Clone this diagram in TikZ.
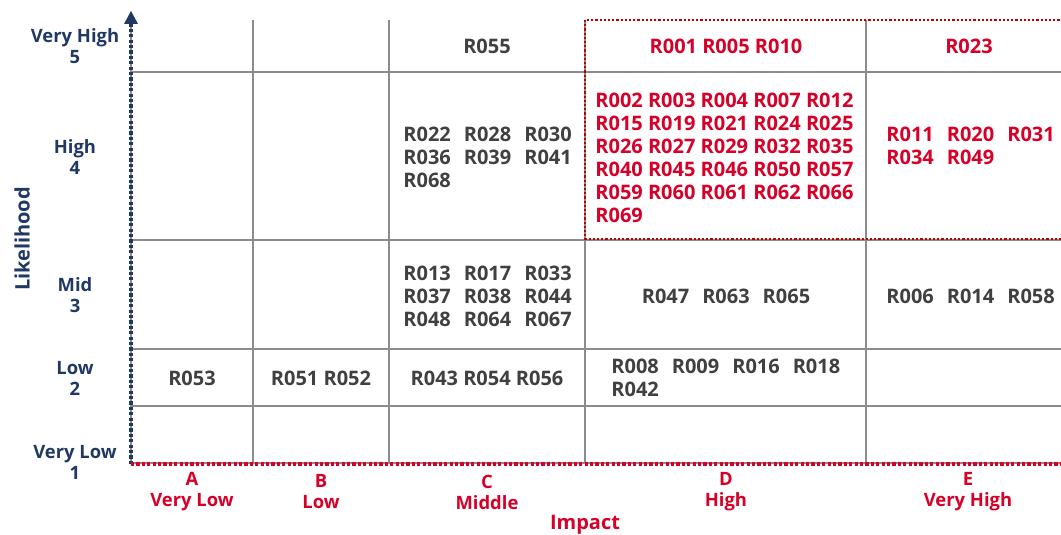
\documentclass[tikz,border=0pt]{standalone}
\usepackage{fontspec}
\setmainfont{Open Sans}
\usepackage{xcolor}
\usetikzlibrary{arrows.meta}

\definecolor{navy}{RGB}{31,56,100}
\definecolor{riskred}{RGB}{214,0,40}
\definecolor{boxred}{RGB}{192,0,0}
\definecolor{idgray}{RGB}{64,64,64}
\definecolor{gridgray}{RGB}{140,140,140}
\newcommand{\idgap}{\hspace{6.5pt}}

\begin{document}
\begin{tikzpicture}[x=0.5pt, y=-0.5pt,
  font=\bfseries\fontsize{10}{11.5}\selectfont,
  grid/.style={draw=gridgray, line width=0.75pt},
  axis/.style={line width=2.2pt, dash pattern=on 1.6pt off 1.1pt},
  ids/.style={text=idgray, align=left, inner sep=0pt},
  hot/.style={ids, text=riskred},
  lab/.style={text=navy, align=center, inner sep=0pt, font=\bfseries\fontsize{9.2}{10.5}\selectfont},
  imp/.style={lab, text=riskred}]
\useasboundingbox (0,0) rectangle (1061,535);
\clip (0,0) rectangle (1061,535);
% grid
\foreach \gx in {131,253,389,585,866}
  \draw[grid] (\gx,20) -- (\gx,463);
\foreach \gy in {72,240,349,406,463}
  \draw[grid] (131,\gy) -- (1075,\gy);
% axes
\coordinate (origin) at (131,464);
\coordinate (ytip) at (131,24);
\coordinate (xtip) at (1066,464);
\draw[axis, navy] (origin) -- (ytip);
\fill[navy] (124,24) -- (131,11) -- (138,24) -- cycle;
\draw[axis, riskred] (origin) -- (xtip);
% high risk zone
\draw[boxred, line width=1.1pt, dash pattern=on 1.1pt off 1pt] (585,20) rectangle (1080,239);
% likelihood labels
\node[lab] (l5) at (75,46) {Very High\\5};
\node[lab] (l4) at (75,157) {High\\4};
\node[lab] (l3) at (75,295) {Mid\\3};
\node[lab] (l2) at (75,378) {Low\\2};
\node[lab] (l1) at (75,462) {Very Low\\1};
\node[lab, rotate=90, font=\bfseries\fontsize{10}{11}\selectfont] (likely) at (22,239) {Likelihood};
% impact labels
\node[imp] (ia) at (192,492) {A\\Very Low};
\node[imp] (ib) at (321,492) {B\\Low};
\node[imp] (ic) at (487,492) {C\\Middle};
\node[imp] (id) at (726,492) {D\\High};
\node[imp] (ie) at (968,492) {E\\Very High};
\node[imp, font=\bfseries\fontsize{10}{11}\selectfont] (impact) at (585,525) {Impact};
% row 5
\node[ids] (c5) at (487,46) {R055};
\node[hot] (d5) at (726,46) {R001 R005 R010};
\node[hot] (e5) at (969,46) {R023};
% row 4
\node[ids, anchor=west] (c4) at (403,157) {R022\idgap R028\idgap R030\\R036\idgap R039\idgap R041\\R068};
\node[hot, anchor=west] (d4) at (595,158) {R002 R003 R004 R007 R012\\R015 R019 R021 R024 R025\\R026 R027 R029 R032 R035\\R040 R045 R046 R050 R057\\R059 R060 R061 R062 R066\\R069};
\node[hot, anchor=west] (e4) at (886,146) {R011\idgap R020\idgap R031\\R034\idgap R049};
% row 3
\node[ids, anchor=west] (c3) at (403,296) {R013\idgap R017\idgap R033\\R037\idgap R038\idgap R044\\R048\idgap R064\idgap R067};
\node[ids] (d3) at (726,296) {R047\idgap R063\idgap R065};
\node[ids, anchor=west] (e3) at (886,296) {R006\idgap R014\idgap R058};
% row 2
\node[ids] (a2) at (192,378) {R053};
\node[ids] (b2) at (321,378) {R051 R052};
\node[ids] (c2) at (487,378) {R043 R054 R056};
\node[ids, anchor=west] (d2) at (611,378) {R008\idgap R009\idgap R016\idgap R018\\R042};
\end{tikzpicture}
\end{document}
